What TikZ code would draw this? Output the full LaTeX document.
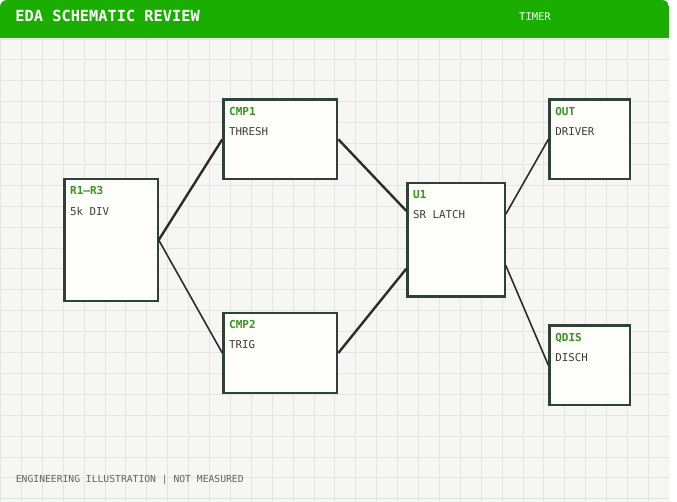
\documentclass[tikz,border=0pt]{standalone}
\usepackage{fontspec}
\setmonofont{DejaVu Sans Mono}
\usepackage{tikz}
\usetikzlibrary{positioning,calc}

\definecolor{hdrgreen}{HTML}{1AAE00}
\definecolor{paper}{HTML}{F6F6F5}
\definecolor{gridline}{HTML}{E2E5E2}
\definecolor{boxfill}{HTML}{FDFDF9}
\definecolor{boxedge}{HTML}{2F4236}
\definecolor{tagcolor}{HTML}{3A9322}
\definecolor{subtext}{HTML}{3C3C3C}
\definecolor{wirecolor}{HTML}{2A2D2B}
\definecolor{footcolor}{HTML}{5F6564}

\begin{document}
\begin{tikzpicture}[
  x=1pt,
  y=-1pt,
  block/.style={
    draw=boxedge,
    line width=2.2pt,
    fill=boxfill,
    inner sep=0pt
  },
  tag/.style={
    anchor=base west,
    inner sep=0pt,
    text=tagcolor,
    font=\ttfamily\bfseries\fontsize{11}{13}\selectfont
  },
  sub/.style={
    anchor=base west,
    inner sep=0pt,
    text=subtext,
    font=\ttfamily\fontsize{10.8}{13}\selectfont
  },
  wire/.style={draw=wirecolor, line width=1.6pt},
  thickwire/.style={draw=wirecolor, line width=2.4pt},
  headtext/.style={anchor=base west, inner sep=0pt, text=white}
]
  \useasboundingbox (0,0) rectangle (677,501);
  \fill[white] (0,0) rectangle (677,501);

  % card, grid and header band
  \begin{scope}
    \clip[rounded corners=7pt] (0,0) rectangle (669,520);
    \fill[paper] (0,0) rectangle (669,520);
    \foreach \i in {0,...,32}
      \draw[gridline, line width=1pt] (0.5+20.9*\i,0) -- (0.5+20.9*\i,520);
    \foreach \j in {0,...,22}
      \draw[gridline, line width=1pt] (0,39+20.9*\j) -- (669,39+20.9*\j);
    \fill[hdrgreen] (0,0) rectangle (669,38.4);
  \end{scope}

  \node[headtext, font=\ttfamily\bfseries\fontsize{15.3}{18}\selectfont] (title) at (15.3,21.8)
    {EDA SCHEMATIC REVIEW};
  \node[headtext, font=\ttfamily\fontsize{10.5}{13}\selectfont] (kind) at (519,20.7)
    {TIMER};

  % blocks
  \node[block, minimum width=93.2pt, minimum height=121.8pt] (r13) at (111,240) {};
  \node[block, minimum width=113.8pt, minimum height=79.8pt] (cmp1) at (280.3,139.3) {};
  \node[block, minimum width=113.8pt, minimum height=80.4pt] (cmp2) at (280.3,353) {};
  \node[block, minimum width=97.2pt, minimum height=113.5pt] (u1) at (456,239.8) {};
  \node[block, minimum width=80.5pt, minimum height=79.8pt] (out) at (589.7,139.3) {};
  \node[block, minimum width=80.5pt, minimum height=79.5pt] (qdis) at (589.7,365.2) {};

  % block texts
  \node[tag] (r13tag) at ([xshift=6.7pt,yshift=-16.7pt]r13.north west) {R1–R3};
  \node[sub] (r13sub) at ([xshift=6.7pt,yshift=-37pt]r13.north west) {5k DIV};
  \node[tag] (cmp1tag) at ([xshift=6.7pt,yshift=-16.7pt]cmp1.north west) {CMP1};
  \node[sub] (cmp1sub) at ([xshift=6.7pt,yshift=-37pt]cmp1.north west) {THRESH};
  \node[tag] (cmp2tag) at ([xshift=6.7pt,yshift=-16.7pt]cmp2.north west) {CMP2};
  \node[sub] (cmp2sub) at ([xshift=6.7pt,yshift=-37pt]cmp2.north west) {TRIG};
  \node[tag] (u1tag) at ([xshift=6.7pt,yshift=-16.7pt]u1.north west) {U1};
  \node[sub] (u1sub) at ([xshift=6.7pt,yshift=-37pt]u1.north west) {SR LATCH};
  \node[tag] (outtag) at ([xshift=6.7pt,yshift=-16.7pt]out.north west) {OUT};
  \node[sub] (outsub) at ([xshift=6.7pt,yshift=-37pt]out.north west) {DRIVER};
  \node[tag] (qdistag) at ([xshift=6.7pt,yshift=-16.7pt]qdis.north west) {QDIS};
  \node[sub] (qdissub) at ([xshift=6.7pt,yshift=-37pt]qdis.north west) {DISCH};

  % wires
  \draw[thickwire] (r13.east) -- (cmp1.west);
  \draw[wire] (r13.east) -- (cmp2.west);
  \draw[thickwire] (cmp1.east) -- ($(u1.north west)!0.25!(u1.south west)$);
  \draw[thickwire] (cmp2.east) -- ($(u1.north west)!0.75!(u1.south west)$);
  \draw[wire] ($(u1.north east)!0.28!(u1.south east)$) -- (out.west);
  \draw[wire] ($(u1.north east)!0.72!(u1.south east)$) -- (qdis.west);

  \node[anchor=base west, inner sep=0pt, text=footcolor,
    font=\ttfamily\fontsize{9.7}{12}\selectfont] (foot) at (15.7,482.3)
    {ENGINEERING ILLUSTRATION | NOT MEASURED};
\end{tikzpicture}
\end{document}
